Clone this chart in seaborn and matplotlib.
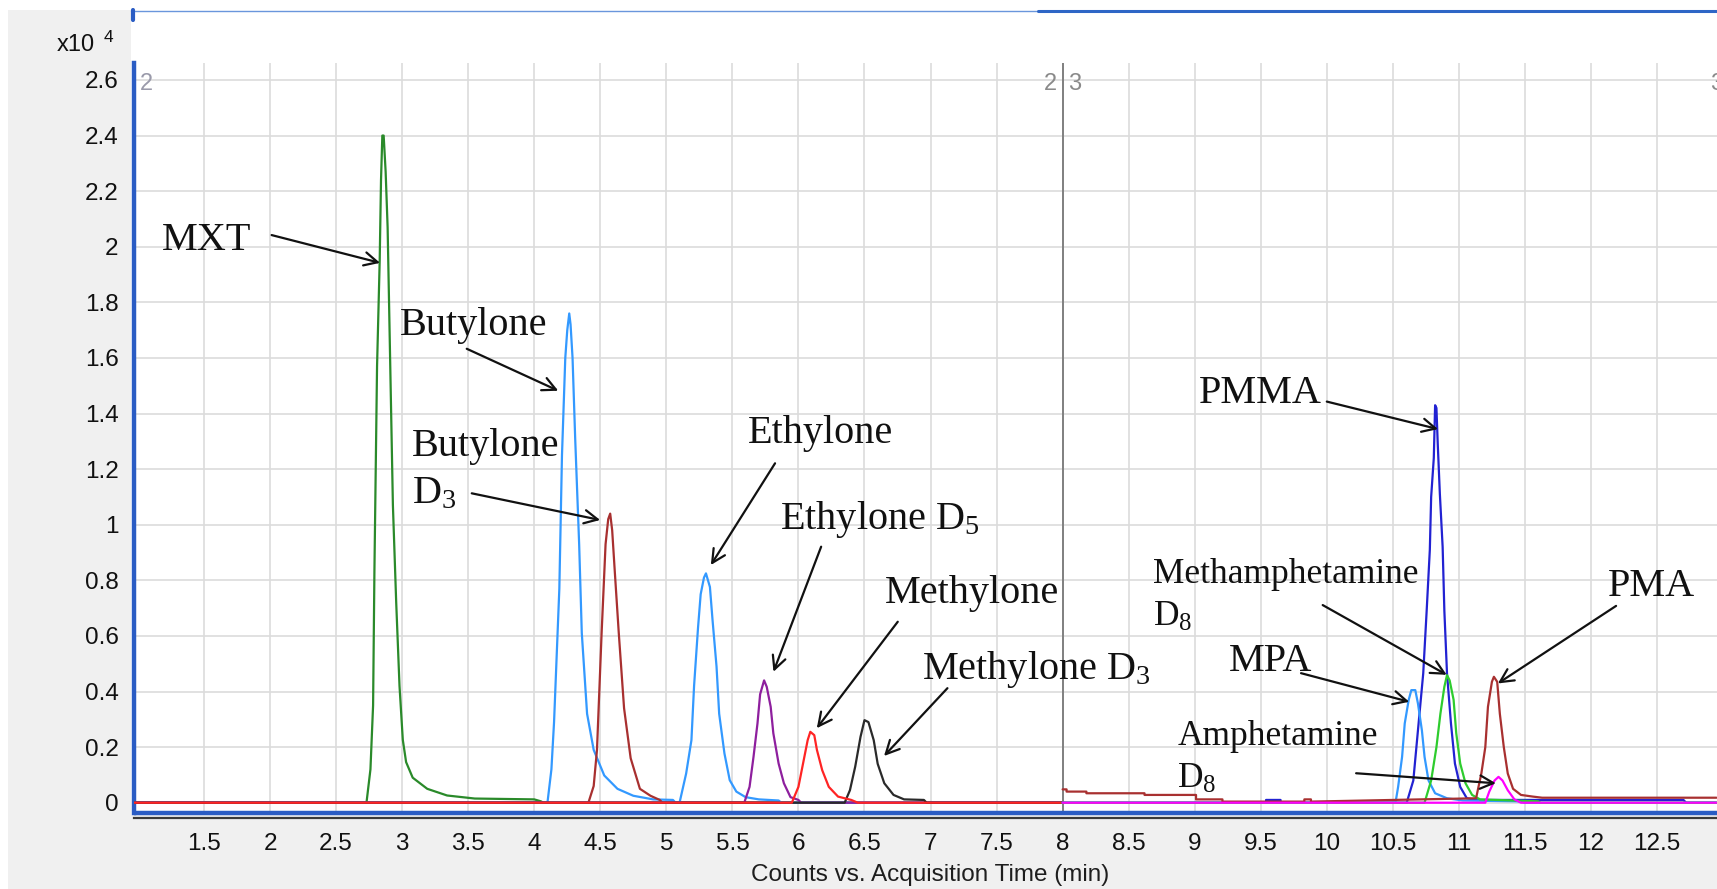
import numpy as np
import pandas as pd
import matplotlib
matplotlib.use("Agg")
import matplotlib.pyplot as plt
from matplotlib.lines import Line2D
from matplotlib.patches import Rectangle
import seaborn as sns

# ---------------- data (time in min, counts in x10^4) ----------------
# segment 2 (left panel)
mxt_time = [0.97, 2.73, 2.76, 2.78, 2.79, 2.81, 2.83, 2.84, 2.85, 2.86, 2.875, 2.89, 2.91,
            2.93, 2.955, 2.98, 3.005, 3.03, 3.08, 3.19, 3.34, 3.55, 4.00, 4.05, 4.07, 8.00]
mxt_counts = [0, 0, 0.12, 0.35, 0.83, 1.57, 1.95, 2.24, 2.40, 2.40, 2.27, 2.07, 1.57,
              1.07, 0.72, 0.42, 0.226, 0.146, 0.09, 0.05, 0.026, 0.015, 0.012, 0.005, 0, 0]

butylone_time = [0.97, 4.10, 4.13, 4.15, 4.19, 4.21, 4.235, 4.25, 4.265, 4.275, 4.29, 4.31,
                 4.34, 4.36, 4.40, 4.45, 4.53, 4.63, 4.75, 4.90, 5.05, 5.07, 8.00]
butylone_counts = [0, 0, 0.12, 0.29, 0.77, 1.25, 1.60, 1.70, 1.76, 1.72, 1.60, 1.31,
                   0.93, 0.61, 0.32, 0.19, 0.098, 0.05, 0.025, 0.012, 0.01, 0, 0]

butylone_d3_time = [0.97, 4.41, 4.45, 4.475, 4.51, 4.54, 4.56, 4.575, 4.59, 4.61, 4.64,
                    4.68, 4.73, 4.80, 4.88, 4.95, 4.97, 8.00]
butylone_d3_counts = [0, 0, 0.06, 0.19, 0.61, 0.93, 1.02, 1.04, 0.98, 0.83, 0.61,
                      0.34, 0.16, 0.05, 0.025, 0.01, 0, 0]

ethylone_time = [0.97, 5.10, 5.15, 5.19, 5.21, 5.24, 5.26, 5.285, 5.30, 5.33, 5.35, 5.38,
                 5.40, 5.44, 5.48, 5.53, 5.60, 5.70, 5.85, 5.87, 8.00]
ethylone_counts = [0, 0, 0.105, 0.225, 0.42, 0.63, 0.75, 0.81, 0.825, 0.776, 0.656, 0.49,
                   0.32, 0.177, 0.081, 0.04, 0.02, 0.012, 0.008, 0, 0]

ethylone_d5_time = [0.97, 5.59, 5.63, 5.66, 5.69, 5.71, 5.74, 5.76, 5.79, 5.81, 5.85, 5.89,
                    5.94, 6.00, 6.02, 8.00]
ethylone_d5_counts = [0, 0, 0.057, 0.165, 0.285, 0.39, 0.44, 0.417, 0.345, 0.25, 0.141, 0.07,
                      0.02, 0.01, 0, 0]

methylone_d3_time = [0.97, 6.35, 6.39, 6.43, 6.47, 6.50, 6.53, 6.57, 6.60, 6.65, 6.72, 6.80,
                     6.95, 6.97, 8.00]
methylone_d3_counts = [0, 0, 0.045, 0.13, 0.237, 0.297, 0.29, 0.225, 0.14, 0.07, 0.028, 0.012,
                       0.01, 0, 0]

methylone_time = [0.97, 5.95, 6.00, 6.04, 6.07, 6.09, 6.12, 6.14, 6.18, 6.23, 6.30, 6.40, 6.45, 8.00]
methylone_counts = [0, 0, 0.057, 0.153, 0.225, 0.255, 0.243, 0.19, 0.117, 0.057, 0.022, 0.01, 0, 0]

# segment 3 (right panel)
pmma_time = [8.00, 9.54, 9.54, 9.65, 9.65, 10.605, 10.655, 10.69, 10.73, 10.756, 10.78, 10.79,
             10.81, 10.82, 10.83, 10.84, 10.856, 10.877, 10.89, 10.91, 10.94, 10.97, 11.01,
             11.06, 11.13, 12.70, 12.72, 12.95]
pmma_counts = [0, 0, 0.01, 0.01, 0, 0, 0.08, 0.26, 0.465, 0.69, 0.91, 1.10,
               1.24, 1.43, 1.42, 1.29, 1.11, 0.92, 0.69, 0.465, 0.285, 0.141, 0.057,
               0.016, 0.01, 0.01, 0, 0]

mpa_time = [8.00, 10.52, 10.54, 10.57, 10.59, 10.62, 10.64, 10.67, 10.69, 10.72, 10.74, 10.77,
            10.82, 10.91, 11.03, 11.45, 11.50, 12.95]
mpa_counts = [0, 0, 0.057, 0.165, 0.285, 0.37, 0.405, 0.405, 0.357, 0.26, 0.165, 0.08,
              0.034, 0.016, 0.008, 0.005, 0, 0]

meth_d8_time = [8.00, 10.74, 10.79, 10.83, 10.86, 10.89, 10.91, 10.93, 10.96, 10.98, 11.01,
                11.05, 11.10, 11.16, 11.60, 11.62, 12.95]
meth_d8_counts = [0, 0, 0.08, 0.2, 0.32, 0.417, 0.459, 0.44, 0.37, 0.25, 0.141,
                  0.07, 0.028, 0.012, 0.005, 0, 0]

pma_time = [8.00, 8.03, 8.03, 8.18, 8.18, 8.62, 8.62, 9.01, 9.01, 9.21, 9.21, 9.83, 9.83,
            9.88, 9.88, 11.13, 11.17, 11.20, 11.22, 11.25, 11.265, 11.29, 11.31, 11.34,
            11.37, 11.41, 11.47, 11.56, 11.63, 12.95]
pma_counts = [0.048, 0.048, 0.04, 0.04, 0.034, 0.034, 0.028, 0.028, 0.012, 0.012, 0.004,
              0.004, 0.012, 0.012, 0.004, 0.016, 0.105, 0.2, 0.345, 0.435, 0.453, 0.435,
              0.32, 0.2, 0.105, 0.05, 0.028, 0.022, 0.018, 0.018]

amph_d8_time = [8.00, 11.20, 11.23, 11.27, 11.30, 11.33, 11.37, 11.42, 11.47, 12.95]
amph_d8_counts = [0, 0, 0.04, 0.08, 0.093, 0.08, 0.045, 0.012, 0, 0]

trace_names = ["MXT", "Butylone", "Butylone D3", "Ethylone", "Ethylone D5", "Methylone D3",
               "Methylone", "PMMA", "MPA", "Methamphetamine D8", "PMA", "Amphetamine D8"]
trace_times = [mxt_time, butylone_time, butylone_d3_time, ethylone_time, ethylone_d5_time,
               methylone_d3_time, methylone_time, pmma_time, mpa_time, meth_d8_time,
               pma_time, amph_d8_time]
trace_counts = [mxt_counts, butylone_counts, butylone_d3_counts, ethylone_counts,
                ethylone_d5_counts, methylone_d3_counts, methylone_counts, pmma_counts,
                mpa_counts, meth_d8_counts, pma_counts, amph_d8_counts]
trace_colors = ["#2a8a2a", "#3399ff", "#a83030", "#3399ff", "#8e1f9e", "#2a2a2a",
                "#ff2424", "#2222d2", "#3399ff", "#2ecc2e", "#a83030", "#ff00ff"]

xtick_values = [1.5, 2, 2.5, 3, 3.5, 4, 4.5, 5, 5.5, 6, 6.5, 7, 7.5, 8, 8.5, 9, 9.5,
                10, 10.5, 11, 11.5, 12, 12.5]
ytick_values = [0, 0.2, 0.4, 0.6, 0.8, 1, 1.2, 1.4, 1.6, 1.8, 2, 2.2, 2.4, 2.6]
segment_break = 8.0

# annotation labels: text, left x, baseline y, font size
label_texts = ["MXT", "Butylone", "Butylone", "D$_3$", "Ethylone", "Ethylone D$_5$",
               "Methylone", "Methylone D$_3$", "PMMA", "Methamphetamine", "D$_8$",
               "PMA", "MPA", "Amphetamine", "D$_8$"]
label_x = [1.182, 2.982, 3.073, 3.073, 5.619, 5.859, 6.655, 6.937, 9.035, 8.687, 8.687,
           12.127, 9.257, 8.869, 8.869]
label_y = [1.989, 1.683, 1.249, 1.076, 1.293, 0.986, 0.718, 0.446, 1.438, 0.792, 0.635,
           0.745, 0.473, 0.206, 0.052]
label_size = [29, 29, 29, 29, 29, 29, 29, 29, 29, 25.5, 25.5, 29, 29, 25.5, 25.5]

# arrows: (from x, from y, to x, to y)
arrows = [(2.012, 2.042, 2.833, 1.942), (3.489, 1.633, 4.182, 1.482),
          (3.527, 1.113, 4.499, 1.017), (5.823, 1.221, 5.337, 0.855),
          (6.172, 0.921, 5.811, 0.471), (6.752, 0.651, 6.139, 0.268),
          (7.128, 0.412, 6.648, 0.168), (10.0, 1.443, 10.842, 1.344),
          (9.969, 0.711, 10.908, 0.460), (12.19, 0.708, 11.295, 0.429),
          (9.805, 0.466, 10.624, 0.363), (10.222, 0.106, 11.28, 0.070)]

# ---------------- style ----------------
sns.set_style("white")
plt.rcParams["font.family"] = ["Liberation Sans", "DejaVu Sans"]
plt.rcParams["mathtext.fontset"] = "custom"
plt.rcParams["mathtext.rm"] = "Liberation Serif"
plt.rcParams["mathtext.it"] = "Liberation Serif:italic"
plt.rcParams["mathtext.default"] = "rm"

W, H = 1717, 889
fig = plt.figure(figsize=(W / 100, H / 100), dpi=100, facecolor="#f0f0f0")

def fx(px):
    return px / W

def fy(py):
    return 1 - py / H

# background panels
fig.patches.append(Rectangle((0, fy(10)), 1, 10 / H, transform=fig.transFigure,
                             facecolor="white", edgecolor="none", zorder=-2))
fig.patches.append(Rectangle((0, 0), fx(8), 1, transform=fig.transFigure,
                             facecolor="white", edgecolor="none", zorder=-2))
fig.patches.append(Rectangle((fx(131), fy(815)), 1 - fx(131), (815 - 10) / H,
                             transform=fig.transFigure, facecolor="white",
                             edgecolor="none", zorder=-1))
# top border
fig.lines.append(Line2D([fx(131), fx(1038)], [fy(10.5), fy(10.5)], transform=fig.transFigure,
                        color="#6a96dc", lw=1.0))
fig.lines.append(Line2D([fx(1038), 1], [fy(10.5), fy(10.5)], transform=fig.transFigure,
                        color="#2e66c6", lw=2.2))
fig.lines.append(Line2D([fx(132.5), fx(132.5)], [fy(10), fy(20)], transform=fig.transFigure,
                        color="#2a5cc4", lw=3.0))

ax = fig.add_axes([fx(134), fy(813), fx(1717) - fx(134), (813 - 63) / H])
ax.set_facecolor("white")

rows = []
for name, t, c in zip(trace_names, trace_times, trace_counts):
    rows.append(pd.DataFrame({"time": t, "counts": c, "trace": name}))
df = pd.concat(rows, ignore_index=True)
palette = dict(zip(trace_names, trace_colors))

sns.lineplot(data=df, x="time", y="counts", hue="trace", hue_order=trace_names,
             palette=palette, estimator=None, sort=False, lw=1.6, legend=False, ax=ax,
             zorder=3)

ax.set_xlim(0.97, 12.954)
ax.set_ylim(-0.037, 2.661)
ax.set_xticks(xtick_values)
ax.set_xticklabels([f"{v:g}" for v in xtick_values])
ax.set_yticks(ytick_values)
ax.set_yticklabels([f"{v:g}" for v in ytick_values])
ax.grid(True, color="#dcdcdc", lw=1.2)
ax.set_axisbelow(True)
ax.set_xlabel("")
ax.set_ylabel("")

ax.axvline(segment_break, color="#808080", lw=1.4, zorder=2)

for side in ["top", "right"]:
    ax.spines[side].set_visible(False)
ax.spines["left"].set_color("#2a5cc4")
ax.spines["left"].set_linewidth(3.2)
ax.spines["bottom"].set_position(("outward", 3.6))
ax.spines["bottom"].set_color("#3a3a3a")
ax.spines["bottom"].set_linewidth(1.6)
ax.plot([0, 1], [0, 0], transform=ax.transAxes, color="#2a5cc4", lw=3.2,
        clip_on=False, zorder=4, solid_capstyle="butt")

ax.tick_params(axis="x", direction="out", length=7.5, width=1.3, color="#222222",
               pad=3.5, labelsize=17.5, labelcolor="#111111")
ax.tick_params(axis="y", direction="out", length=7, width=1.3, color="#222222",
               pad=4, labelsize=17.5, labelcolor="#111111")

# segment numbers
ax.text(1.016, 2.585, "2", color="#9a9aaa", fontsize=17, va="center", ha="left")
ax.text(7.96, 2.585, "2", color="#8a8a8a", fontsize=17, va="center", ha="right")
ax.text(8.04, 2.585, "3", color="#8a8a8a", fontsize=17, va="center", ha="left")
ax.text(12.90, 2.585, "3", color="#8a8a8a", fontsize=17, va="center", ha="left",
        clip_on=False)

# labels & arrows
for txt, x, y, s in zip(label_texts, label_x, label_y, label_size):
    ax.text(x, y, txt, fontsize=s, family="Liberation Serif", color="#111111",
            ha="left", va="baseline", zorder=6)
for x0, y0, x1, y1 in arrows:
    ax.annotate("", xy=(x1, y1), xytext=(x0, y0),
                arrowprops=dict(arrowstyle="->", color="#111111", lw=1.6,
                                mutation_scale=24, shrinkA=0, shrinkB=0), zorder=6)

# multiplier and axis title
fig.text(fx(57), fy(45), "x10", fontsize=17, color="#111111", ha="left", va="center")
fig.text(fx(104), fy(38), "4", fontsize=12.5, color="#111111", ha="left", va="center")
fig.text(fx(930), fy(875), "Counts vs. Acquisition Time (min)", fontsize=17.5,
         color="#1e1e1e", ha="center", va="center")

fig.savefig("out.png", dpi=100, facecolor=fig.get_facecolor())
